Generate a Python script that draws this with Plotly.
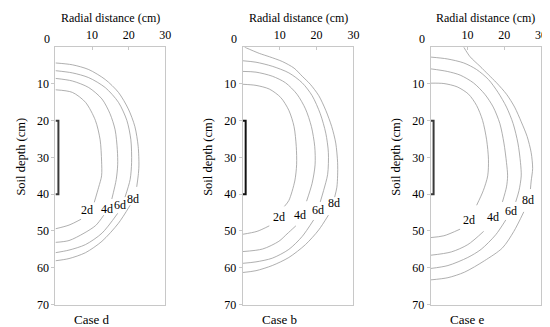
import plotly.graph_objects as go

# ---------------- data ----------------
case_names = ["Case d", "Case b", "Case e"]
day_labels = ["2d", "4d", "6d", "8d"]
radial_ticks = [10, 20, 30]
depth_ticks = [10, 20, 30, 40, 50, 60, 70]
emitter_top = 20
emitter_bottom = 40

# Case d
d_2d_r = [0, 4.6, 8.2, 10.9, 12.2, 12.6, 12.6, 11.8, 10.6, None, 7.0, 3.7, 0]
d_2d_z = [11.6, 12.3, 15.0, 19.9, 25.2, 31.0, 35.0, 38.1, 42.2, None, 46.8, 48.4, 49.4]
d_4d_r = [0, 4.6, 9.1, 12.7, 14.9, 16.3, 16.9, 17.0, 16.6, 15.4, None, 13.2, 11.0, 7.8, 3.7, 0]
d_4d_z = [8.5, 9.2, 11.0, 14.1, 18.1, 22.5, 27.9, 32.0, 36.0, 41.3, None, 45.7, 48.5, 50.6, 52.6, 53.1]
d_6d_r = [0, 4.6, 9.1, 13.6, 17.2, 19.5, 20.6, 20.8, 20.4, 19.0, None, 17.0, 12.7, 8.2, 3.7, 0]
d_6d_z = [6.4, 7.0, 8.3, 11.0, 15.0, 19.9, 25.2, 31.4, 36.0, 40.8, None, 45.2, 50.6, 53.7, 55.2, 55.9]
d_8d_r = [0, 4.6, 9.1, 13.6, 17.2, 19.9, 21.7, 22.6, 22.8, 22.6, 22.2, None, 20.4, 17.2, 12.7, 8.2, 3.7, 0]
d_8d_z = [4.3, 4.8, 6.1, 8.8, 12.3, 16.8, 21.6, 27.0, 32.3, 35.0, 38.0, None, 43.0, 47.9, 52.8, 55.9, 57.5, 58.1]

# Case b
b_2d_r = [0, 3.6, 7.2, 10.3, 12.5, 13.9, 14.5, 14.6, 14.1, 12.5, 11.3, None, 7.2, 3.9, 0]
b_2d_z = [10.1, 10.4, 11.4, 13.7, 17.2, 21.6, 27.0, 32.0, 36.4, 41.7, 43.3, None, 48.6, 50.1, 50.9]
b_4d_r = [0, 3.6, 8.0, 11.6, 14.7, 17.0, 18.6, 19.5, 19.6, 18.8, 17.3, None, 14.4, 12.0, 9.8, 5.4, 0]
b_4d_z = [6.6, 6.8, 7.9, 9.7, 12.8, 16.8, 21.6, 27.0, 32.0, 37.0, 41.9, None, 48.6, 50.8, 52.8, 54.9, 55.6]
b_6d_r = [0, 3.6, 8.0, 12.5, 16.1, 18.8, 21.0, 22.5, 23.2, 23.0, 21.9, 21.0, None, 19.2, 16.1, 12.5, 8.0, 3.6, 0]
b_6d_z = [3.7, 4.1, 5.2, 7.0, 9.7, 13.2, 18.1, 23.4, 28.7, 34.6, 39.0, 42.1, None, 47.0, 51.5, 55.0, 57.4, 58.4, 58.8]
b_8d_r = [0.5, 4.5, 7.2, 10.7, 13.9, 16.1, 18.3, 20.6, 22.5, 24.1, 25.2, 25.7, 25.7, 25.5, 24.9, None, 23.2, 20.6, 17.0, 12.5, 8.0, 3.6, 0]
b_8d_z = [0, 1.7, 2.6, 3.9, 5.7, 7.9, 10.1, 13.2, 17.2, 21.6, 26.1, 31.4, 35.0, 38.1, 40.8, None, 45.7, 49.7, 53.7, 57.2, 59.4, 60.8, 61.3]

# Case e
e_2d_r = [0, 3.6, 7.2, 10.3, 12.5, 14.1, 15.2, 15.7, 15.5, 14.3, 12.5, None, 8.0, 3.6, 0]
e_2d_z = [9.8, 9.9, 10.8, 12.8, 15.9, 19.9, 25.2, 30.5, 35.0, 39.0, 43.0, None, 49.5, 51.3, 51.8]
e_4d_r = [0, 4.5, 8.0, 11.6, 14.7, 17.0, 18.8, 19.9, 20.6, 20.9, 20.6, 19.5, None, 14.4, 10.1, 5.6, 0]
e_4d_z = [5.9, 6.6, 7.6, 9.7, 12.8, 16.3, 20.8, 26.1, 31.4, 35.0, 38.0, 42.1, None, 50.1, 53.7, 55.7, 56.6]
e_6d_r = [0, 4.5, 9.0, 12.5, 15.7, 18.3, 20.6, 22.4, 23.7, 24.4, 24.6, 24.0, 23.1, None, 20.4, 17.7, 13.7, 10.1, 4.7, 0]
e_6d_z = [2.7, 3.2, 4.3, 6.1, 8.8, 12.3, 16.3, 20.8, 26.1, 31.4, 35.0, 39.0, 42.1, None, 47.0, 51.0, 55.0, 57.2, 59.4, 60.2]
e_8d_r = [9.0, 10.7, 13.4, 15.7, 17.9, 20.6, 22.8, 24.6, 26.2, 27.3, 27.7, 27.3, 27.1, None, 25.3, 22.6, 19.5, 14.6, 9.2, 4.7, 0]
e_8d_z = [0, 2.6, 5.2, 7.5, 9.7, 12.8, 16.3, 20.3, 24.3, 28.7, 33.0, 36.4, 38.6, None, 44.8, 50.1, 54.6, 58.1, 61.2, 62.7, 63.3]

curves = [
    [(d_2d_r, d_2d_z), (d_4d_r, d_4d_z), (d_6d_r, d_6d_z), (d_8d_r, d_8d_z)],
    [(b_2d_r, b_2d_z), (b_4d_r, b_4d_z), (b_6d_r, b_6d_z), (b_8d_r, b_8d_z)],
    [(e_2d_r, e_2d_z), (e_4d_r, e_4d_z), (e_6d_r, e_6d_z), (e_8d_r, e_8d_z)],
]

# label anchor positions (layout)
label_pos = [
    [(8.6, 44.4), (14.0, 43.9), (17.6, 42.9), (21.1, 41.3)],
    [(9.7, 46.3), (15.5, 45.7), (20.3, 44.4), (24.6, 42.4)],
    [(10.4, 47.0), (17.0, 46.2), (21.9, 44.6), (26.5, 41.7)],
]

# ---------------- figure ----------------
W, H = 550, 327
x_domains = [(48 / W, 159 / W), (237.3 / W, 349.3 / W), (427.3 / W, 539 / W)]
y_domain = (1 - 303 / H, 1 - 40 / H)
FONT = "Liberation Serif"
TXT = "#000000"
FRAME = "#c8c8c8"
CURVE = "#9a9a9a"
bracket_colors = ["#3a3a3a", "#111111", "#3a3a3a"]

fig = go.Figure()
annotations = []
layout_axes = {}

for i in range(3):
    xa = "x" if i == 0 else f"x{i+1}"
    ya = "y" if i == 0 else f"y{i+1}"
    for (r, z) in curves[i]:
        fig.add_trace(go.Scatter(
            x=r, y=z, xaxis=xa, yaxis=ya, mode="lines",
            line=dict(color=CURVE, width=0.8, shape="spline", smoothing=0.8),
            connectgaps=False, showlegend=False, hoverinfo="skip"))
    fig.add_trace(go.Scatter(
        x=[0, 0.8, 0.8, 0], y=[emitter_top, emitter_top, emitter_bottom, emitter_bottom],
        xaxis=xa, yaxis=ya, mode="lines",
        line=dict(color=bracket_colors[i], width=2),
        showlegend=False, hoverinfo="skip", cliponaxis=False))

    xkey = "xaxis" if i == 0 else f"xaxis{i+1}"
    ykey = "yaxis" if i == 0 else f"yaxis{i+1}"
    layout_axes[xkey] = dict(
        domain=x_domains[i], anchor=ya, side="top", range=[0, 30],
        tickvals=radial_ticks, ticks="inside", ticklen=3, tickcolor=FRAME,
        ticklabelstandoff=2,
        showline=True, mirror=True, linecolor=FRAME, linewidth=1,
        showgrid=False, zeroline=False,
        tickfont=dict(family=FONT, size=12, color=TXT))
    layout_axes[ykey] = dict(
        domain=y_domain, anchor=xa, range=[70, 0],
        tickvals=depth_ticks, ticks="outside", ticklen=3, tickcolor=FRAME,
        showline=True, mirror=True, linecolor=FRAME, linewidth=1,
        showgrid=False, zeroline=False,
        tickfont=dict(family=FONT, size=12, color=TXT))

    x0, x1 = x_domains[i]
    cx = (x0 + x1) / 2
    annotations.append(dict(text="Radial distance (cm)", x=cx, y=1 - 1 / H,
                            xref="paper", yref="paper", showarrow=False,
                            xanchor="center", yanchor="top",
                            font=dict(family=FONT, size=12, color=TXT)))
    annotations.append(dict(text="Soil depth (cm)", x=x0 - 35 / W, y=1 - 152 / H,
                            xref="paper", yref="paper", showarrow=False, textangle=-90,
                            xanchor="center", yanchor="middle",
                            font=dict(family=FONT, size=12.5, color=TXT)))
    annotations.append(dict(text="0", x=x0 - 8.5 / W, y=1 - 32 / H,
                            xref="paper", yref="paper", showarrow=False,
                            xanchor="center", yanchor="middle",
                            font=dict(family=FONT, size=12, color=TXT)))
    annotations.append(dict(text=case_names[i], x=x0 + 37 / W, y=1 - 318 / H,
                            xref="paper", yref="paper", showarrow=False,
                            xanchor="center", yanchor="middle",
                            font=dict(family=FONT, size=13, color=TXT)))
    for lab, (lx, lz) in zip(day_labels, label_pos[i]):
        annotations.append(dict(text=lab, x=lx, y=lz, xref=xa, yref=ya,
                                showarrow=False, xanchor="center", yanchor="middle",
                                font=dict(family=FONT, size=12, color=TXT)))

fig.update_layout(
    width=W, height=H, margin=dict(l=0, r=0, t=0, b=0),
    paper_bgcolor="white", plot_bgcolor="white",
    annotations=annotations, showlegend=False, **layout_axes)

fig.write_html("out.html")
